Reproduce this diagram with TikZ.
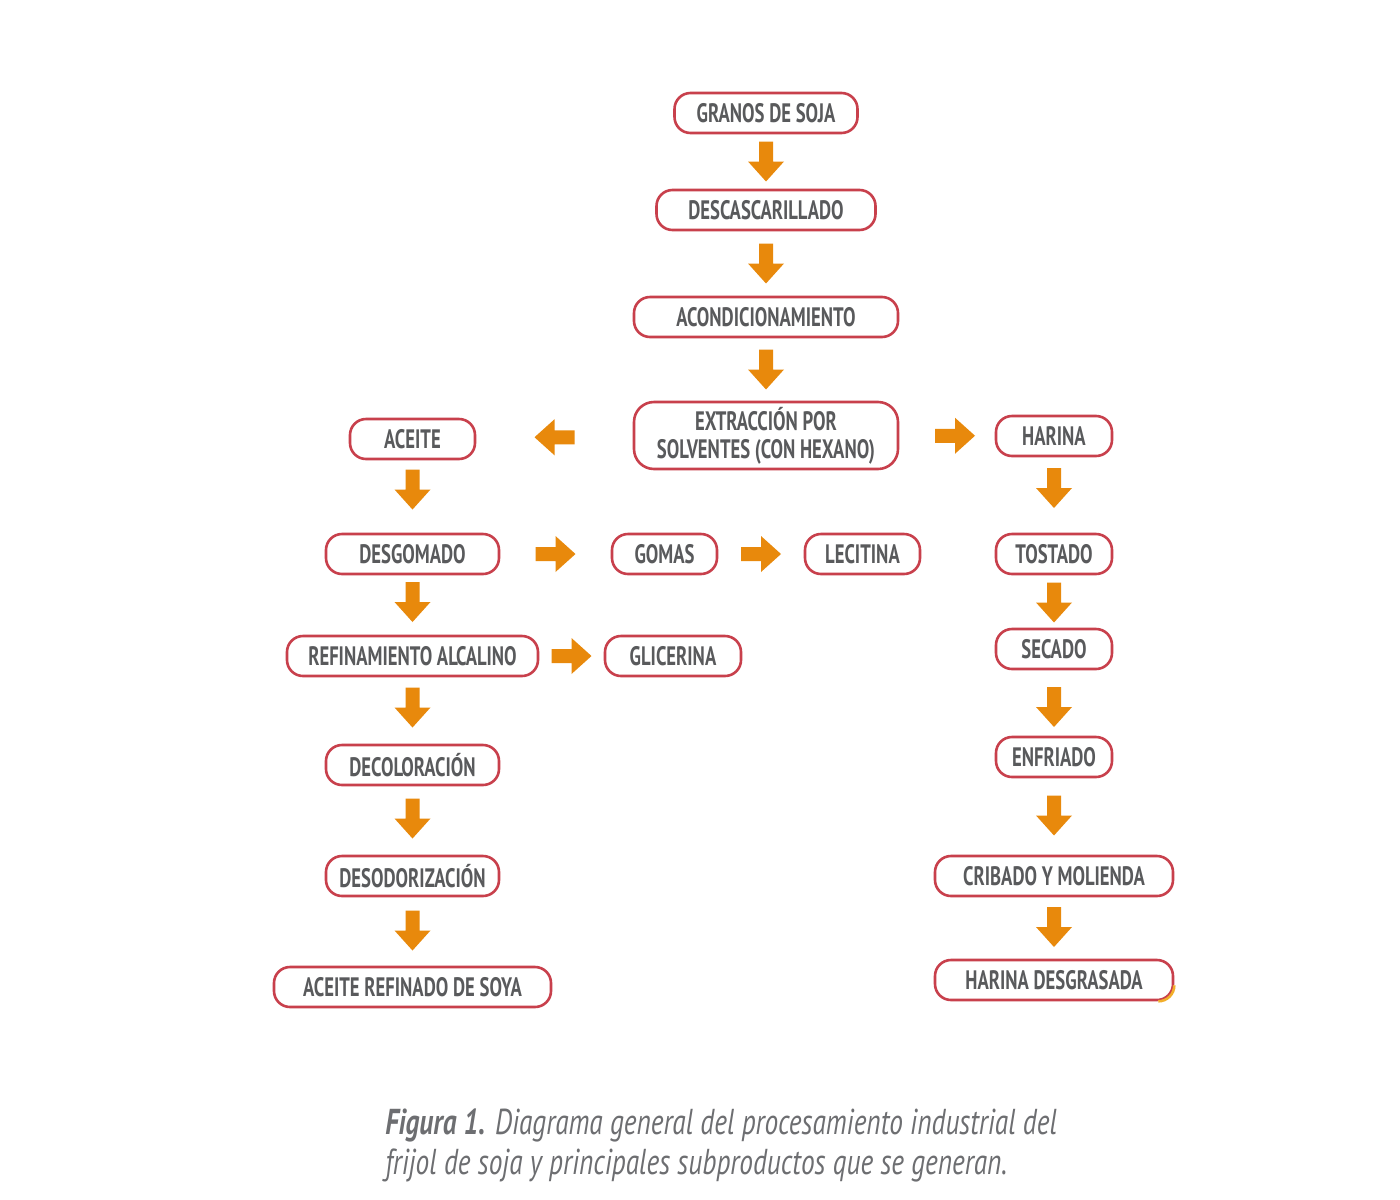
\documentclass[tikz,border=0pt]{standalone}
\usepackage{fontspec}
\usetikzlibrary{calc}
\newfontfamily\boxfont{PT Sans}[FakeStretch=0.7]
\newfontfamily\capfont{PT Sans}[FakeStretch=0.76]
\newdimen\pxu \pxu=0.75pt
\definecolor{boxred}{HTML}{C8404C}
\definecolor{arrowor}{HTML}{E8890C}
\definecolor{textgray}{HTML}{595A5C}
\definecolor{capgray}{HTML}{6D6E71}
\definecolor{glitch}{HTML}{F2AE2A}
\tikzset{
  box/.style={draw=boxred, line width=2.6\pxu, rounded corners=16\pxu, fill=white,
    text=textgray, font=\boxfont\bfseries\fontsize{20}{23}\selectfont,
    minimum height=40\pxu, align=center, inner sep=0pt},
  barrow/.pic={\fill[arrowor] (-20,-7) -- (0,-7) -- (0,-18) -- (20,0) -- (0,18) -- (0,7) -- (-20,7) -- cycle;},
  captxt/.style={text=capgray, font=\capfont\itshape\fontsize{27}{32}\selectfont, inner sep=0pt, anchor=base west}
}
\newcommand\darr[3]{\pic[rotate=-90] at ($(#1.south)!0.5!(#2.north)+(0,#3)$) {barrow};}
\newcommand\rarr[3]{\pic at ($(#1.east)!0.5!(#2.west)+(#3,0)$) {barrow};}
\newcommand\larr[3]{\pic[rotate=180] at ($(#2.east)!0.5!(#1.west)+(#3,0)$) {barrow};}
\begin{document}
\begin{tikzpicture}[x=0.75pt,y=-0.75pt]
\fill[white] (0,0) rectangle (1400,1200);
\useasboundingbox (0,0) rectangle (1400,1200);
% central column
\node[box, minimum width=183\pxu] (granos) at (766,113) {GRANOS DE SOJA};
\node[box, minimum width=219\pxu] (desc) at (766,210) {DESCASCARILLADO};
\node[box, minimum width=264\pxu] (acond) at (766,317) {ACONDICIONAMIENTO};
\node[box, minimum width=264\pxu, minimum height=67\pxu, rounded corners=20\pxu] (extr) at (766,435.5) {EXTRACCI\'ON POR\\[-2pt]SOLVENTES (CON HEXANO)};
% left column
\node[box, minimum width=125\pxu] (aceite) at (412.5,439) {ACEITE};
\node[box, minimum width=173\pxu] (desg) at (412.5,554) {DESGOMADO};
\node[box, minimum width=105\pxu] (gomas) at (664.5,554) {GOMAS};
\node[box, minimum width=115\pxu] (lecit) at (862.5,554) {LECITINA};
\node[box, minimum width=251\pxu] (refin) at (412.5,656) {REFINAMIENTO ALCALINO};
\node[box, minimum width=136\pxu] (glic) at (673,656) {GLICERINA};
\node[box, minimum width=173\pxu] (decol) at (412.5,765) {DECOLORACI\'ON};
\node[box, minimum width=173\pxu] (desod) at (412.5,876) {DESODORIZACI\'ON};
\node[box, minimum width=277\pxu] (aref) at (412.5,987) {ACEITE REFINADO DE SOYA};
% right column
\node[box, minimum width=116\pxu] (harina) at (1054,436) {HARINA};
\node[box, minimum width=116\pxu] (tost) at (1054,554) {TOSTADO};
\node[box, minimum width=116\pxu] (secado) at (1054,649) {SECADO};
\node[box, minimum width=116\pxu] (enfr) at (1054,757) {ENFRIADO};
\node[box, minimum width=238\pxu] (crib) at (1054,876) {CRIBADO Y MOLIENDA};
\node[box, minimum width=238\pxu] (hdes) at (1054,980) {HARINA DESGRASADA};
% coloured corner on last box
\draw[glitch, line width=2.6\pxu] ($(hdes.south east)+(-16,0)$) arc[start angle=90, end angle=0, radius=16];
% arrows
\darr{granos}{desc}{0}
\darr{desc}{acond}{0}
\darr{acond}{extr}{0}
\larr{extr}{aceite}{0}
\rarr{extr}{harina}{8}
\darr{aceite}{desg}{-7}
\rarr{desg}{gomas}{0}
\rarr{gomas}{lecit}{0}
\darr{desg}{refin}{-3}
\rarr{refin}{glic}{0}
\darr{refin}{decol}{-3}
\darr{decol}{desod}{-2}
\darr{desod}{aref}{-1}
\darr{harina}{tost}{-7}
\darr{tost}{secado}{1}
\darr{secado}{enfr}{4}
\darr{enfr}{crib}{-1}
\darr{crib}{hdes}{-1}
% caption
\node[captxt] (cap1) at (385,1134) {{\bfseries Figura 1.} Diagrama general del procesamiento industrial del};
\node[captxt] (cap2) at (385,1174) {frijol de soja y principales subproductos que se generan.};
\end{tikzpicture}
\end{document}
